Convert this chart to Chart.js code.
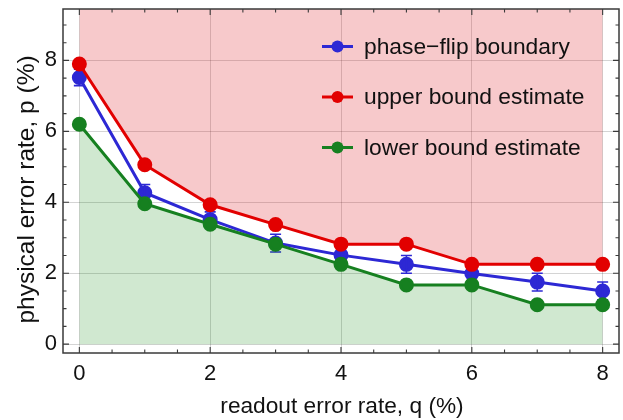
<!DOCTYPE html>
<html>
<head>
<meta charset="utf-8">
<script src="https://cdn.jsdelivr.net/npm/chart.js@4.4.1/dist/chart.umd.min.js"></script>
<style>
  html, body { margin: 0; padding: 0; background: #ffffff; }
  #wrap { width: 623px; height: 420px; }
</style>
</head>
<body>
<div id="wrap"><canvas id="c" width="623" height="420"></canvas></div>
<script>
// ---- data ----
const qValues = [0, 1, 2, 3, 4, 5, 6, 7, 8];
const phaseFlip = [7.52, 4.27, 3.51, 2.85, 2.51, 2.25, 1.99, 1.75, 1.50];
const phaseFlipErr = [0.23, 0.23, 0.22, 0.25, 0.08, 0.25, 0.08, 0.25, 0.25];
const upperBound = [7.90, 5.06, 3.93, 3.37, 2.82, 2.82, 2.25, 2.25, 2.25];
const lowerBound = [6.20, 3.96, 3.38, 2.82, 2.25, 1.67, 1.67, 1.11, 1.11];
const seriesLabels = ['phase\u2212flip boundary', 'upper bound estimate', 'lower bound estimate'];
const xTickValues = [0, 2, 4, 6, 8];
const xTickLabels = ['0', '2', '4', '6', '8'];
const yTickValues = [0, 2, 4, 6, 8];
const yTickLabels = ['0', '2', '4', '6', '8'];
const xTitle = 'readout error rate, q (%)';
const yTitle = 'physical error rate, p (%)';

const FONT = '"Liberation Sans", Arial, Helvetica, sans-serif';
const BLUE = 'rgb(45,40,212)';
const RED = 'rgb(226,0,0)';
const GREEN = 'rgb(22,128,32)';

function pts(ys) { return qValues.map((x, i) => ({ x: x, y: ys[i] })); }

// error bars drawn together with the blue dataset
const errorBarPlugin = {
  id: 'errorBars',
  afterDatasetDraw(chart, args) {
    const ds = chart.data.datasets[args.index];
    if (!ds.errors) return;
    const xs = chart.scales.x, ys = chart.scales.y, ctx = chart.ctx;
    ctx.save();
    ctx.strokeStyle = ds.borderColor;
    ctx.lineWidth = 1.6;
    ds.data.forEach((p, i) => {
      const e = ds.errors[i];
      const px = xs.getPixelForValue(p.x);
      const y1 = ys.getPixelForValue(p.y - e), y2 = ys.getPixelForValue(p.y + e);
      ctx.beginPath();
      ctx.moveTo(px, y1); ctx.lineTo(px, y2);
      ctx.moveTo(px - 5.5, y1); ctx.lineTo(px + 5.5, y1);
      ctx.moveTo(px - 5.5, y2); ctx.lineTo(px + 5.5, y2);
      ctx.stroke();
    });
    ctx.restore();
  }
};

// frame, inward ticks, titles and legend
const framePlugin = {
  id: 'frame',
  afterDraw(chart) {
    const ctx = chart.ctx, a = chart.chartArea;
    const xs = chart.scales.x, ys = chart.scales.y;
    ctx.save();
    ctx.strokeStyle = '#3a3a3a';
    ctx.lineWidth = 1.5;
    ctx.strokeRect(a.left, a.top, a.right - a.left, a.bottom - a.top);
    ctx.lineWidth = 1.1;
    ctx.beginPath();
    for (let v = 0; v <= 8.001; v += 0.5) {
      const major = Math.abs(v - Math.round(v / 2) * 2) < 1e-6;
      const len = major ? 6 : 3.5;
      const px = xs.getPixelForValue(v);
      ctx.moveTo(px, a.bottom); ctx.lineTo(px, a.bottom - len);
      ctx.moveTo(px, a.top); ctx.lineTo(px, a.top + len);
    }
    for (let v = 0; v <= 9.3; v += 0.5) {
      const major = Math.abs(v - Math.round(v / 2) * 2) < 1e-6;
      const len = major ? 6 : 3.5;
      const py = ys.getPixelForValue(v);
      ctx.moveTo(a.left, py); ctx.lineTo(a.left + len, py);
      ctx.moveTo(a.right, py); ctx.lineTo(a.right - len, py);
    }
    ctx.stroke();

    // axis titles
    ctx.fillStyle = '#111';
    ctx.font = '22.7px ' + FONT;
    ctx.textAlign = 'center';
    ctx.textBaseline = 'alphabetic';
    ctx.fillText(xTitle, (a.left + a.right) / 2 + 1, 413);
    ctx.save();
    ctx.translate(34, 189.5);
    ctx.rotate(-Math.PI / 2);
    ctx.font = '24.5px ' + FONT;
    ctx.fillText(yTitle, 0, 0);
    ctx.restore();

    // legend
    const order = [2, 1, 0]; // dataset indices: blue, red, green
    const rowsY = [46.5, 97, 147.5];
    ctx.textAlign = 'left';
    ctx.textBaseline = 'middle';
    ctx.font = '22.8px ' + FONT;
    order.forEach((di, r) => {
      const ds = chart.data.datasets[di];
      const y = rowsY[r];
      ctx.strokeStyle = ds.borderColor;
      ctx.lineWidth = 3;
      ctx.beginPath(); ctx.moveTo(322, y); ctx.lineTo(353, y); ctx.stroke();
      ctx.fillStyle = ds.pointBackgroundColor;
      ctx.beginPath(); ctx.arc(337.5, y, 6, 0, Math.PI * 2); ctx.fill();
      ctx.fillStyle = '#111';
      ctx.fillText(ds.label, 364, y + 1);
    });
    ctx.restore();
  }
};

new Chart(document.getElementById('c'), {
  type: 'line',
  data: {
    datasets: [
      {
        label: seriesLabels[2], data: pts(lowerBound), order: 1,
        borderColor: GREEN, backgroundColor: 'rgba(0,128,0,0.185)',
        pointBackgroundColor: GREEN, pointBorderColor: GREEN,
        fill: 'origin', borderWidth: 3, pointRadius: 6, tension: 0
      },
      {
        label: seriesLabels[1], data: pts(upperBound), order: 2,
        borderColor: RED, backgroundColor: 'rgba(222,20,32,0.23)',
        pointBackgroundColor: RED, pointBorderColor: RED,
        fill: 'end', borderWidth: 3, pointRadius: 6, tension: 0
      },
      {
        label: seriesLabels[0], data: pts(phaseFlip), errors: phaseFlipErr, order: 3,
        borderColor: BLUE, backgroundColor: BLUE,
        pointBackgroundColor: BLUE, pointBorderColor: BLUE,
        fill: false, borderWidth: 3, pointRadius: 6, tension: 0
      }
    ]
  },
  options: {
    responsive: false,
    animation: false,
    events: [],
    layout: { autoPadding: false, padding: { top: 9, right: 4, left: 0, bottom: 0 } },
    plugins: { legend: { display: false }, tooltip: { enabled: false } },
    scales: {
      x: {
        type: 'linear', min: -0.25, max: 8.25,
        afterBuildTicks(s) { s.ticks = xTickValues.map(v => ({ value: v })); },
        afterFit(s) { s.height = 67; s.paddingLeft = 0; s.paddingRight = 0; },
        grid: { color: 'rgba(0,0,0,0.17)', lineWidth: 1, drawTicks: false },
        border: { display: false },
        ticks: {
          padding: 8, color: '#111', font: { family: FONT, size: 22 },
          maxRotation: 0, autoSkip: false,
          callback(v) { const i = xTickValues.indexOf(v); return i >= 0 ? xTickLabels[i] : ''; }
        }
      },
      y: {
        type: 'linear', min: -0.25, max: 9.45,
        afterBuildTicks(s) { s.ticks = yTickValues.map(v => ({ value: v })); },
        afterFit(s) { s.width = 63; s.paddingTop = 0; s.paddingBottom = 0; },
        grid: { color: 'rgba(0,0,0,0.17)', lineWidth: 1, drawTicks: false },
        border: { display: false },
        ticks: {
          padding: 6, color: '#111', font: { family: FONT, size: 22 },
          autoSkip: false,
          callback(v) { const i = yTickValues.indexOf(v); return i >= 0 ? yTickLabels[i] : ''; }
        }
      }
    }
  },
  plugins: [errorBarPlugin, framePlugin]
});
</script>
</body>
</html>
